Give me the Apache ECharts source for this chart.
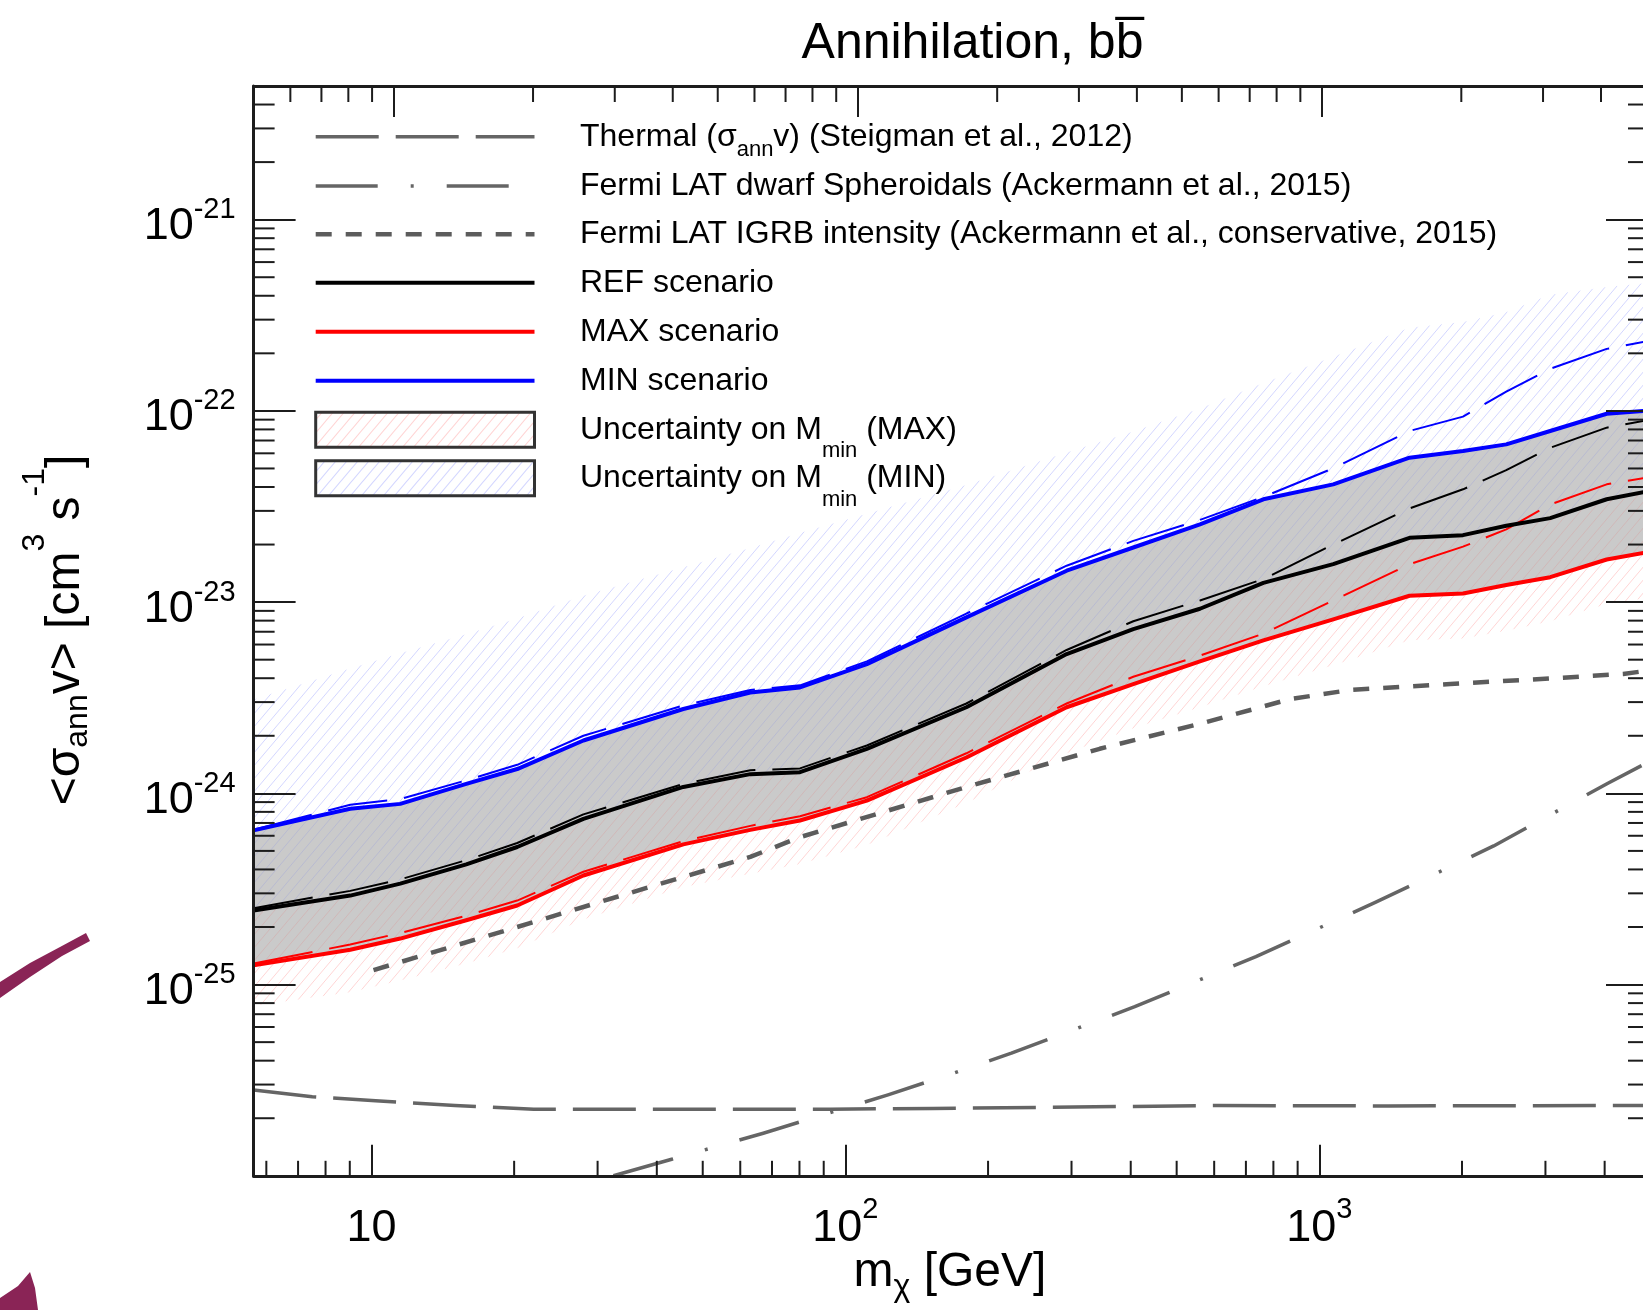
<!DOCTYPE html>
<html>
<head>
<meta charset="utf-8">
<title>Annihilation, bb̅</title>
<script src="https://cdn.jsdelivr.net/npm/echarts@6.0.0/dist/echarts.min.js"></script>
<style>
html,body{margin:0;padding:0;background:#ffffff;}
#chart{width:1643px;height:1310px;}
</style>
</head>
<body>
<div id="chart"></div>
<script>
// ---------------- values ----------------
// dark-matter mass grid (GeV) for the scenario curves and their bands
const massGrid = [5.64, 9.02, 11.5, 15.85, 20.3, 28.0, 45.5, 63.0, 80.2, 111, 180, 293, 405, 560, 762, 1070, 1550, 2010, 2480, 3070, 4040, 4890];
// solid lines  <sigma_ann v> [cm^3 s^-1]
const refScenario = [2.44e-25, 2.92e-25, 3.37e-25, 4.25e-25, 5.24e-25, 7.36e-25, 1.08e-24, 1.26e-24, 1.29e-24, 1.71e-24, 2.82e-24, 5.35e-24, 7.23e-24, 9.23e-24, 1.26e-23, 1.58e-23, 2.17e-23, 2.24e-23, 2.51e-23, 2.75e-23, 3.45e-23, 3.78e-23];
const maxScenario = [1.26e-25, 1.52e-25, 1.74e-25, 2.17e-25, 2.59e-25, 3.72e-25, 5.41e-25, 6.44e-25, 7.21e-25, 9.16e-25, 1.54e-24, 2.82e-24, 3.73e-24, 4.90e-24, 6.31e-24, 8.13e-24, 1.08e-23, 1.11e-23, 1.23e-23, 1.35e-23, 1.67e-23, 1.82e-23];
const minScenario = [6.40e-25, 8.30e-25, 8.81e-25, 1.12e-24, 1.34e-24, 1.89e-24, 2.76e-24, 3.37e-24, 3.58e-24, 4.74e-24, 8.32e-24, 1.46e-23, 1.93e-23, 2.55e-23, 3.45e-23, 4.13e-23, 5.69e-23, 6.17e-23, 6.68e-23, 7.85e-23, 9.66e-23, 1.00e-22];
// thin dashed lines (M_min variants)
const refMminVariant = [2.51e-25, 3.09e-25, 3.55e-25, 4.47e-25, 5.50e-25, 7.76e-25, 1.12e-24, 1.32e-24, 1.35e-24, 1.78e-24, 2.95e-24, 5.62e-24, 7.94e-24, 1.02e-23, 1.32e-23, 2.00e-23, 3.09e-23, 3.89e-23, 4.90e-23, 6.41e-23, 8.17e-23, 8.91e-23];
const maxMminVariant = [1.29e-25, 1.62e-25, 1.86e-25, 2.29e-25, 2.75e-25, 3.89e-25, 5.62e-25, 6.76e-25, 7.59e-25, 9.55e-25, 1.62e-24, 2.95e-24, 4.07e-24, 5.25e-24, 6.84e-24, 1.02e-23, 1.58e-23, 1.95e-23, 2.40e-23, 3.24e-23, 4.13e-23, 4.47e-23];
const minMminVariant = [6.46e-25, 8.71e-25, 9.33e-25, 1.17e-24, 1.41e-24, 2.00e-24, 2.88e-24, 3.47e-24, 3.67e-24, 4.90e-24, 8.71e-24, 1.55e-23, 2.09e-23, 2.69e-23, 3.55e-23, 5.01e-23, 7.85e-23, 9.33e-23, 1.26e-22, 1.66e-22, 2.11e-22, 2.31e-22];
// hatched uncertainty regions: outer edges (inner edge = REF scenario)
const minHatchUpper = [3.10e-24, 4.50e-24, 5.40e-24, 6.80e-24, 8.20e-24, 1.08e-23, 1.52e-23, 1.92e-23, 2.30e-23, 2.90e-23, 4.10e-23, 6.05e-23, 7.80e-23, 1.03e-22, 1.40e-22, 1.92e-22, 2.72e-22, 2.92e-22, 3.28e-22, 4.05e-22, 4.45e-22, 4.65e-22];
const maxHatchLower = [7.76e-26, 9.12e-26, 1.05e-25, 1.29e-25, 1.55e-25, 2.19e-25, 3.24e-25, 3.80e-25, 4.27e-25, 5.37e-25, 8.91e-25, 1.62e-24, 2.19e-24, 2.82e-24, 3.63e-24, 4.68e-24, 6.31e-24, 6.46e-24, 7.08e-24, 7.94e-24, 9.77e-24, 1.05e-23];
// thermal relic cross section (Steigman et al. 2012)
const thermalMass = [5.64, 7.5, 10.2, 15.0, 22.0, 39.0, 93.0, 153, 611, 1400, 4150, 4890];
const thermalSigma = [2.81e-26, 2.59e-26, 2.47e-26, 2.33e-26, 2.23e-26, 2.23e-26, 2.23e-26, 2.25e-26, 2.33e-26, 2.32e-26, 2.33e-26, 2.33e-26];
// Fermi LAT dwarf spheroidals
const dsphMass = [32.4, 43.0, 67.1, 123, 169, 224, 408, 735, 1309, 2333, 4064, 4820];
const dsphSigma = [1.00e-26, 1.22e-26, 1.67e-26, 2.65e-26, 3.44e-26, 4.38e-26, 7.66e-26, 1.40e-25, 2.68e-25, 5.31e-25, 1.13e-24, 1.41e-24];
// Fermi LAT IGRB intensity (conservative)
const igrbMass = [10.1, 20.3, 33.0, 63.0, 80.2, 180, 344, 560, 867, 1160, 1890, 3070, 4375, 4890];
const igrbSigma = [1.19e-25, 2.00e-25, 2.88e-25, 4.65e-25, 5.90e-25, 1.08e-24, 1.71e-24, 2.31e-24, 3.11e-24, 3.47e-24, 3.73e-24, 3.99e-24, 4.21e-24, 4.37e-24];

// tick labels (powers of ten)
const xTickExponents = [1, 2, 3];
const yTickExponents = [-26, -25, -24, -23, -22, -21];
const minorMultipliers = [2, 3, 4, 5, 6, 7, 8, 9];
const xMinorTicks = [6, 7, 8, 9, 20, 30, 40, 50, 60, 70, 80, 90, 200, 300, 400, 500, 600, 700, 800, 900, 2000, 3000, 4000];

// texts
const titleText = 'Annihilation, bb\u0305';
const xAxisTitle = '{t|m}{sub|χ}{t| [GeV]}';
const yAxisTitle = '{t|<σ}{sub|ann}{t|v> [cm}{sup|3}{t| s}{sup|-1}{t|]}';
const N = {
  thermal: 'Thermal (σannv) (Steigman et al., 2012)',
  dsph: 'Fermi LAT dwarf Spheroidals (Ackermann et al., 2015)',
  igrb: 'Fermi LAT IGRB intensity (Ackermann et al., conservative, 2015)',
  ref: 'REF scenario',
  max: 'MAX scenario',
  min: 'MIN scenario',
  hMax: 'Uncertainty on Mmin (MAX)',
  hMin: 'Uncertainty on Mmin (MIN)'
};
const legendOrder = ['thermal', 'dsph', 'igrb', 'ref', 'max', 'min', 'hMax', 'hMin'];
const legendLabel = {
  thermal: '{t|Thermal (σ}{sa|ann}{t|v) (Steigman et al., 2012)}',
  dsph: '{t|Fermi LAT dwarf Spheroidals (Ackermann et al., 2015)}',
  igrb: '{t|Fermi LAT IGRB intensity (Ackermann et al., conservative, 2015)}',
  ref: '{t|REF scenario}',
  max: '{t|MAX scenario}',
  min: '{t|MIN scenario}',
  hMax: '{t|Uncertainty on M}{sm|min}{t| (MAX)}',
  hMin: '{t|Uncertainty on M}{sm|min}{t| (MIN)}'
};

// ---------------- styling ----------------
const FONT = "'Liberation Sans', Arial, Helvetica, sans-serif";
const XMIN = 5.64, XMAX = 4890, YMIN = 1e-26, YMAX = 5e-21, TOP_MIN = 5, TOP_MAX = 5000;
const GRAY = '#656565';
const AX = '#1c1c1c';
const BLUE_HATCH = 'rgba(70,85,255,0.24)';
const RED_HATCH = 'rgba(255,60,60,0.22)';
const BLUE_HATCH_IN = 'rgba(70,85,255,0.13)';
const RED_HATCH_IN = 'rgba(255,60,60,0.12)';

const STYLE = {
  thermal: { color: GRAY, width: 3.5, dash: [63, 17] },
  dsph: { color: GRAY, width: 3.5, dash: [62, 33, 3, 33] },
  igrb: { color: '#5c5c5c', width: 4.5, dash: [16, 14] },
  ref: { color: '#000000', width: 4, dash: null },
  max: { color: '#ff0000', width: 4, dash: null },
  min: { color: '#0000ff', width: 4, dash: null },
  hMax: { hatch: RED_HATCH },
  hMin: { hatch: BLUE_HATCH }
};

const yMinorTicks = [];
for (let e = -26; e <= -21; e++) {
  for (const m of minorMultipliers) {
    const v = m * Math.pow(10, e);
    if (v < YMAX * 0.999) yMinorTicks.push(v);
  }
}

function decadeExp(v, list) {
  const l = Math.log10(v);
  const e = Math.round(l);
  if (Math.abs(l - e) > 1e-6) return null;
  return list.indexOf(e) >= 0 ? e : null;
}

// diagonal hatch tile: lines x/w + y/h = k (about 50 degrees)
function hatchPattern(color, w, h, lw) {
  const c = document.createElement('canvas');
  c.width = w; c.height = h;
  const g = c.getContext('2d');
  g.strokeStyle = color; g.lineWidth = lw;
  g.beginPath();
  for (let k = 0; k <= 2; k++) {
    g.moveTo(k * w + 1, -h / w); g.lineTo((k - 1) * w - 1, h + h / w);
  }
  g.stroke();
  return { image: c, repeat: 'repeat' };
}

function bandSeries(name, lowerArr, upperArr, fill, z) {
  return {
    type: 'custom', name: name, z: z, silent: true, clip: true,
    xAxisIndex: 0, yAxisIndex: 0,
    data: massGrid.map((m, i) => [m, lowerArr[i], upperArr[i]]),
    encode: { x: 0, y: [1, 2] },
    renderItem: function (params, api) {
      if (params.dataIndex !== 0) return null;
      const pts = [];
      for (let i = 0; i < massGrid.length; i++) pts.push(api.coord([massGrid[i], upperArr[i]]));
      for (let i = massGrid.length - 1; i >= 0; i--) pts.push(api.coord([massGrid[i], lowerArr[i]]));
      return { type: 'polygon', shape: { points: pts }, style: { fill: fill, stroke: null } };
    }
  };
}

function lineSeries(name, xs, ys, color, width, dash, z) {
  return {
    type: 'line', name: name, z: z, silent: true, clip: true,
    symbol: 'none', showSymbol: false, smooth: false,
    data: xs.map((x, i) => [x, ys[i]]),
    lineStyle: { color: color, width: width, type: dash || 'solid', cap: 'butt', join: 'round' },
    itemStyle: { color: color }
  };
}

function tickSeries(points, dx, dy, xAxisIndex) {
  return {
    type: 'custom', silent: true, clip: false, z: 12,
    xAxisIndex: xAxisIndex, yAxisIndex: 0,
    data: points,
    encode: { x: 0, y: 1 },
    renderItem: function (params, api) {
      const p = api.coord([api.value(0), api.value(1)]);
      return { type: 'line', shape: { x1: p[0], y1: p[1], x2: p[0] + dx, y2: p[1] + dy },
               style: { stroke: AX, lineWidth: 2 } };
    }
  };
}

const tickRich = {
  b: { fontFamily: FONT, fontSize: 45, lineHeight: 50, color: '#000' },
  s: { fontFamily: FONT, fontSize: 29, lineHeight: 30, color: '#000', padding: [0, 0, 38, 0] },
  by: { fontFamily: FONT, fontSize: 45, lineHeight: 50, color: '#000', padding: [14, 0, 0, 0] },
  sy: { fontFamily: FONT, fontSize: 29, lineHeight: 30, color: '#000', padding: [0, 0, 19, 0] }
};
const legendRich = {
  t: { fontFamily: FONT, fontSize: 32, lineHeight: 34, color: '#000' },
  sa: { fontFamily: FONT, fontSize: 22, lineHeight: 20, color: '#000', padding: [27, 0, 0, 0] },
  sm: { fontFamily: FONT, fontSize: 22, lineHeight: 20, color: '#000', padding: [43, 0, 0, 0] }
};
const axisTitleRich = {
  t: { fontFamily: FONT, fontSize: 48, lineHeight: 56, color: '#000' },
  sub: { fontFamily: FONT, fontSize: 32, lineHeight: 20, color: '#000', padding: [24, 0, 0, 0] },
  sup: { fontFamily: FONT, fontSize: 32, lineHeight: 20, color: '#000', padding: [0, 0, 62, 0] }
};
const xTitleRich = {
  t: axisTitleRich.t,
  sub: { fontFamily: FONT, fontSize: 32, lineHeight: 20, color: '#000', padding: [29, 0, 0, 0] }
};

// legend drawn as graphic elements (rows top to bottom)
const LEG = { x1: 315.7, x2: 534.5, textX: 580, rows: [136.7, 186, 234.3, 282.7, 331.7, 380.7, 429.8, 478.3] };
const legendGraphics = [];
legendOrder.forEach(function (key, i) {
  const cy = LEG.rows[i];
  const st = STYLE[key];
  if (st.hatch) {
    legendGraphics.push({
      type: 'rect', z: 40, silent: true,
      shape: { x: LEG.x1, y: cy - 17.5, width: LEG.x2 - LEG.x1, height: 35 },
      style: { fill: hatchPattern(st.hatch, 11, 13, 1.1), stroke: '#333333', lineWidth: 3 }
    });
  } else {
    legendGraphics.push({
      type: 'line', z: 40, silent: true,
      shape: { x1: LEG.x1, y1: cy, x2: LEG.x2, y2: cy },
      style: { stroke: st.color, lineWidth: st.width, lineDash: st.dash || null, lineCap: 'butt' }
    });
  }
  legendGraphics.push({
    type: 'text', z: 40, silent: true,
    style: {
      x: LEG.textX, y: cy, text: legendLabel[key], rich: legendRich,
      fontFamily: FONT, fontSize: 32, fill: '#000',
      textAlign: 'left', align: 'left', textVerticalAlign: 'middle', verticalAlign: 'middle'
    }
  });
});

const chart = echarts.init(document.getElementById('chart'), null, { renderer: 'canvas', width: 1643, height: 1310 });

const axisCommon = {
  axisLine: { show: true, onZero: false, lineStyle: { color: AX, width: 3 } },
  splitLine: { show: false }, minorTick: { show: false }, minorSplitLine: { show: false }
};

const option = {
  animation: false,
  backgroundColor: '#ffffff',
  grid: { left: 253.6, right: -3, top: 86, bottom: 134.2, containLabel: false, outerBoundsMode: 'none' },
  xAxis: [
    Object.assign({}, axisCommon, {
      type: 'log', logBase: 10, min: XMIN, max: XMAX, position: 'bottom', z: 10,
      axisTick: { show: true, inside: true, length: 31, lineStyle: { color: AX, width: 2 } },
      axisLabel: {
        show: true, margin: 28, showMinLabel: false, showMaxLabel: false, rich: tickRich,
        formatter: function (v) {
          const e = decadeExp(v, xTickExponents);
          if (e === null) return '';
          return e === 1 ? '{b|10}' : '{b|10}{s|' + e + '}';
        }
      }
    }),
    Object.assign({}, axisCommon, {
      type: 'log', logBase: 10, min: TOP_MIN, max: TOP_MAX, position: 'top', z: 10,
      axisTick: { show: true, inside: true, length: 31, lineStyle: { color: AX, width: 2 } },
      axisLabel: { show: false }
    })
  ],
  yAxis: [
    Object.assign({}, axisCommon, {
      type: 'log', logBase: 10, min: YMIN, max: YMAX, position: 'left', z: 10,
      axisTick: { show: true, inside: true, length: 42, lineStyle: { color: AX, width: 2 } },
      axisLabel: {
        show: true, margin: 18, showMinLabel: true, showMaxLabel: false, rich: tickRich,
        formatter: function (v) {
          const e = decadeExp(v, yTickExponents);
          if (e === null) return '';
          return '{by|10}{sy|' + e + '}';
        }
      }
    }),
    Object.assign({}, axisCommon, {
      type: 'log', logBase: 10, min: YMIN, max: YMAX, position: 'right', z: 10,
      axisTick: { show: true, inside: true, length: 40, lineStyle: { color: AX, width: 2 } },
      axisLabel: { show: false }
    })
  ],
  graphic: [
    {
      type: 'text', z: 50, silent: true,
      style: {
        x: 972.5, y: 44, text: titleText,
        font: '50px "Liberation Sans", Arial, sans-serif', fill: '#000',
        textAlign: 'center', textVerticalAlign: 'middle', align: 'center', verticalAlign: 'middle'
      }
    },
    {
      type: 'text', z: 50, silent: true,
      style: {
        x: 950, y: 1273, text: xAxisTitle, rich: xTitleRich,
        fontFamily: FONT, fontSize: 48, fill: '#000',
        textAlign: 'center', textVerticalAlign: 'middle', align: 'center', verticalAlign: 'middle'
      }
    },
    {
      type: 'text', z: 50, silent: true, x: 66, y: 630, rotation: Math.PI / 2,
      style: {
        x: 0, y: 0, text: yAxisTitle, rich: axisTitleRich,
        fontFamily: FONT, fontSize: 48, fill: '#000',
        textAlign: 'center', textVerticalAlign: 'middle', align: 'center', verticalAlign: 'middle'
      }
    },
    {
      type: 'polygon', z: 50, silent: true,
      shape: { points: [[0, 982], [30, 963], [60, 947], [86, 933], [90, 941], [62, 956], [30, 977], [0, 998]] },
      style: { fill: '#8a2456' }
    },
    {
      type: 'polygon', z: 50, silent: true,
      shape: { points: [[0, 1298], [18, 1286], [30, 1272], [35, 1288], [38, 1310], [0, 1310]] },
      style: { fill: '#8a2456' }
    }
  ].concat(legendGraphics),
  series: [
    bandSeries('gray band', maxScenario, minScenario, '#cacaca', 1),
    // MAX uncertainty hatch: outside the gray band, then the part inside it
    bandSeries(N.hMax, maxHatchLower, maxScenario, hatchPattern(RED_HATCH, 11, 13, 1.0), 2),
    bandSeries(N.hMax + ' (in band)', maxScenario, refScenario, hatchPattern(RED_HATCH_IN, 11, 13, 1.0), 2),
    // MIN uncertainty hatch: outside the gray band, then the part inside it
    bandSeries(N.hMin, minScenario, minHatchUpper, hatchPattern(BLUE_HATCH, 11, 13, 1.0), 3),
    bandSeries(N.hMin + ' (in band)', refScenario, minScenario, hatchPattern(BLUE_HATCH_IN, 11, 13, 1.0), 3),
    lineSeries(N.thermal, thermalMass, thermalSigma, STYLE.thermal.color, STYLE.thermal.width, STYLE.thermal.dash, 4),
    lineSeries(N.dsph, dsphMass, dsphSigma, STYLE.dsph.color, STYLE.dsph.width, STYLE.dsph.dash, 4),
    lineSeries(N.igrb, igrbMass, igrbSigma, STYLE.igrb.color, STYLE.igrb.width, STYLE.igrb.dash, 4),
    lineSeries('REF Mmin variant', massGrid, refMminVariant, '#000000', 2, [60, 17], 5),
    lineSeries('MAX Mmin variant', massGrid, maxMminVariant, '#ff0000', 2, [60, 17], 5),
    lineSeries('MIN Mmin variant', massGrid, minMminVariant, '#0000ff', 2, [60, 17], 5),
    lineSeries(N.ref, massGrid, refScenario, STYLE.ref.color, STYLE.ref.width, null, 6),
    lineSeries(N.max, massGrid, maxScenario, STYLE.max.color, STYLE.max.width, null, 6),
    lineSeries(N.min, massGrid, minScenario, STYLE.min.color, STYLE.min.width, null, 6),
    tickSeries(yMinorTicks.map(v => [XMIN, v]), 21, 0, 0),
    tickSeries(yMinorTicks.map(v => [XMAX, v]), -18, 0, 0),
    tickSeries(xMinorTicks.map(v => [v, YMIN]), 0, -15, 0),
    tickSeries(xMinorTicks.map(v => [v, YMAX]), 0, 16, 1)
  ]
};
chart.setOption(option);
</script>
</body>
</html>
